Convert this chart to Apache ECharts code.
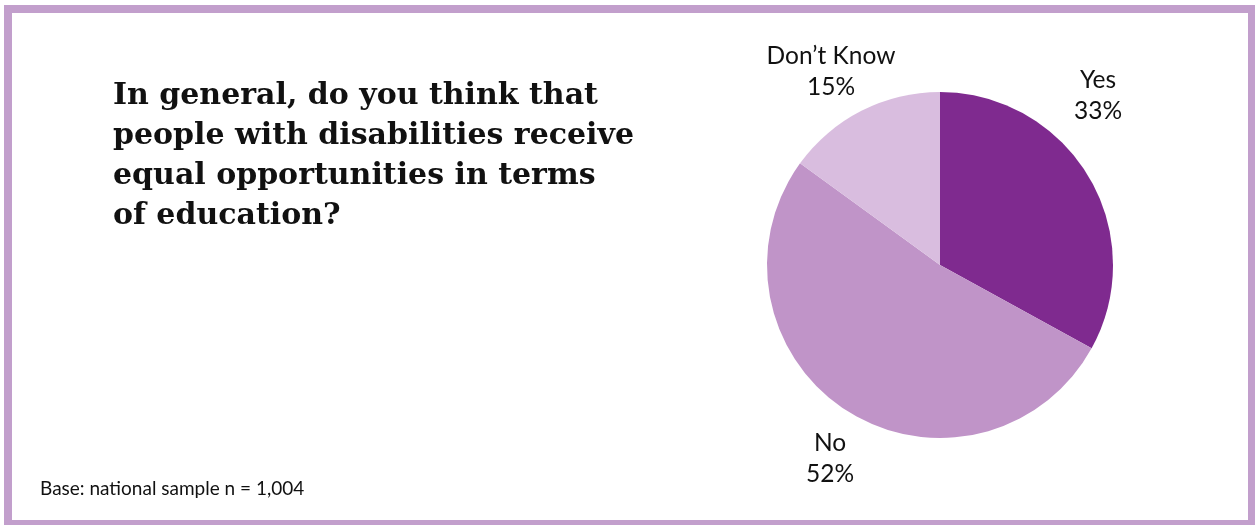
<!DOCTYPE html>
<html>
<head>
<meta charset="utf-8">
<script src="https://cdn.jsdelivr.net/npm/echarts@6/dist/echarts.min.js"></script>
<style>
  html, body { margin: 0; padding: 0; background: #ffffff; }
  #chart { width: 1255px; height: 525px; }
</style>
</head>
<body>
<div id="chart"></div>
<script>
// Survey answers and their shares (%)
const categories = ['Yes', 'No', 'Don\u2019t Know'];
const shares = [33, 52, 15];
const sliceColors = ['#7f2a8f', '#c094c8', '#d9bddf'];

const questionLines = [
  'In general, do you think that',
  'people with disabilities receive',
  'equal opportunities in terms',
  'of education?'
];
const baseNote = 'Base: national sample n = 1,004';

// Where each label block sits (centre of the two-line text)
const labelSpots = [[1098, 96], [830, 459], [831, 72]];

const chart = echarts.init(document.getElementById('chart'), null, { renderer: 'canvas' });

chart.setOption({
  backgroundColor: '#ffffff',
  animation: false,
  title: [{
    text: questionLines.join('\n'),
    left: 108,
    top: 71,
    textStyle: {
      fontFamily: 'DejaVu Serif',
      fontWeight: 'bold',
      fontSize: 30,
      lineHeight: 40,
      color: '#111111'
    }
  }, {
    text: baseNote,
    left: 35,
    top: 474,
    textStyle: {
      fontFamily: 'Lato',
      fontWeight: 'normal',
      fontSize: 19,
      color: '#111111'
    }
  }],
  graphic: [{
    type: 'rect',
    shape: { x: 8, y: 9, width: 1244, height: 515 },
    style: { fill: null, stroke: '#c29fcc', lineWidth: 8 },
    silent: true
  }],
  series: [{
    type: 'pie',
    center: [940, 265],
    radius: 173,
    startAngle: 90,
    clockwise: true,
    silent: true,
    itemStyle: { borderWidth: 0 },
    label: {
      show: true,
      position: 'outside',
      formatter: p => p.name + '\n' + p.value + '%',
      fontFamily: 'Lato',
      fontSize: 24.5,
      lineHeight: 31,
      color: '#111111',
      align: 'center'
    },
    labelLine: { show: false },
    labelLayout: p => ({
      x: labelSpots[p.dataIndex][0],
      y: labelSpots[p.dataIndex][1],
      align: 'center',
      verticalAlign: 'middle'
    }),
    data: categories.map((c, i) => ({
      name: c,
      value: shares[i],
      itemStyle: { color: sliceColors[i] }
    }))
  }]
});
</script>
</body>
</html>
